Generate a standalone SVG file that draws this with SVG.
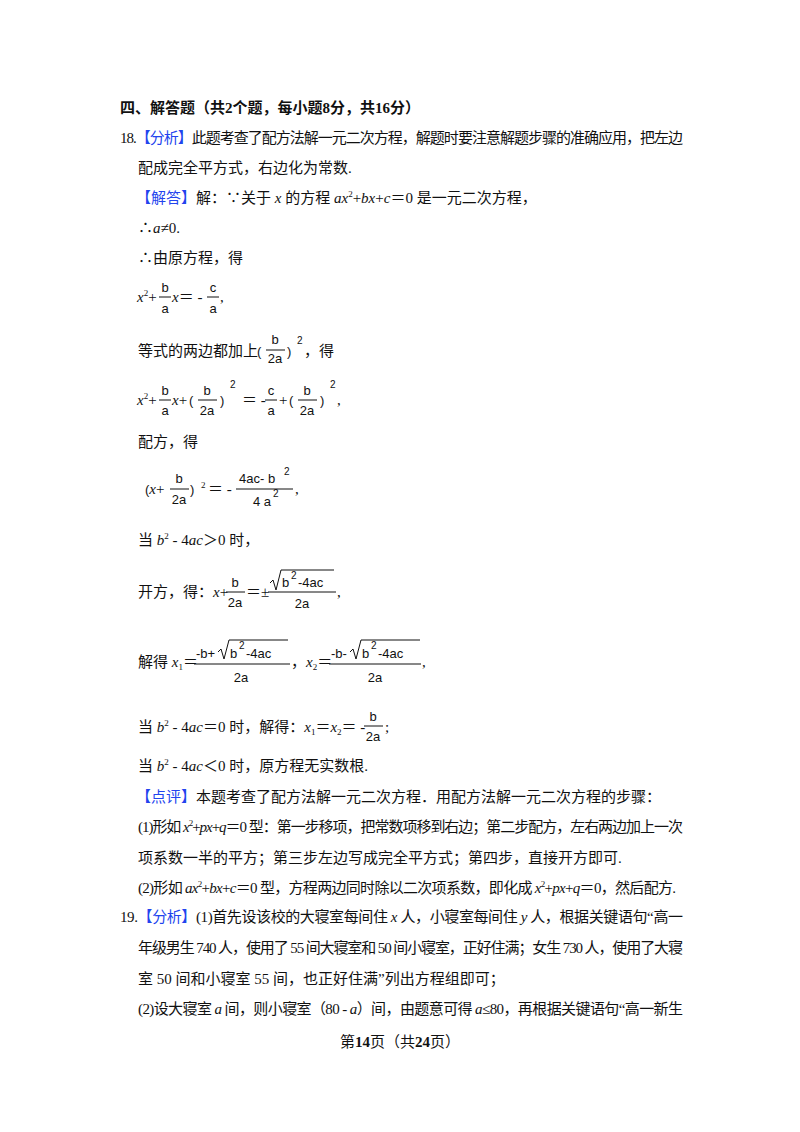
<svg xmlns="http://www.w3.org/2000/svg" width="800" height="1132" viewBox="0 0 800 1132">
<style>
text{font-family:"Liberation Serif","Noto Sans CJK SC",serif;font-size:15px;fill:#111}
.b{font-weight:bold}
.bl{fill:#2244ee}
.i{font-style:italic}
.f{font-family:"Liberation Sans","DejaVu Sans",sans-serif;font-size:13px}
.fm{font-family:"Liberation Sans","DejaVu Sans",sans-serif;font-size:13px;text-anchor:middle}
.s{font-size:9px}
.fs{font-family:"Liberation Sans",sans-serif;font-size:10px}
line{stroke:#111;stroke-width:1}
</style>
<rect width="800" height="1132" fill="#fff"/>
<g id="title"><text x="120" y="113" class="b">四、解答题（共2个题，每小题8分，共16分）</text></g>
<g id="q18">
<text x="120" y="143" textLength="563" lengthAdjust="spacing">18.<tspan class="bl">【分析】</tspan>此题考查了配方法解一元二次方程，解题时要注意解题步骤的准确应用，把左边</text>
<text x="138" y="173">配成完全平方式，右边化为常数.</text>
<text x="136" y="203"><tspan class="bl">【解答】</tspan>解：∵关于 <tspan class="i">x</tspan> 的方程 <tspan class="i">ax</tspan><tspan class="s" dy="-6">2</tspan><tspan dy="6">+</tspan><tspan class="i">bx</tspan>+<tspan class="i">c</tspan>＝0 是一元二次方程，</text>
<text x="138" y="233">∴<tspan class="i">a</tspan>≠0.</text>
<text x="138" y="263">∴由原方程，得</text>
</g>
<g id="eq1">
<text x="137" y="302"><tspan class="i">x</tspan><tspan class="s" dy="-6">2</tspan><tspan dy="6">+</tspan></text>
<text x="165" y="292" class="fm">b</text><line x1="159" y1="297" x2="171" y2="297"/><text x="165" y="313" class="fm">a</text>
<text x="172" y="302"><tspan class="i">x</tspan>＝ -</text>
<text x="213" y="292" class="fm">c</text><line x1="207" y1="297" x2="219" y2="297"/><text x="213" y="313" class="fm">a</text>
<text x="220" y="302">,</text>
</g>
<g id="eq2">
<text x="138" y="356">等式的两边都加上</text>
<text x="257" y="356" class="f">(</text>
<text x="275" y="344" class="fm">b</text><line x1="266" y1="350" x2="285" y2="350"/><text x="275" y="363" class="fm">2a</text>
<text x="287" y="356" class="f">)</text><text x="297" y="344" class="fs">2</text>
<text x="304" y="356">，得</text>
</g>
<g id="eq3">
<text x="137" y="405"><tspan class="i">x</tspan><tspan class="s" dy="-6">2</tspan><tspan dy="6">+</tspan></text>
<text x="165" y="395" class="fm">b</text><line x1="159" y1="400" x2="171" y2="400"/><text x="165" y="415" class="fm">a</text>
<text x="172" y="405"><tspan class="i">x</tspan>+</text>
<text x="189" y="405" class="f">(</text>
<text x="207" y="395" class="fm">b</text><line x1="198" y1="400" x2="217" y2="400"/><text x="207" y="415" class="fm">2a</text>
<text x="220" y="405" class="f">)</text><text x="230" y="388" class="fs">2</text>
<text x="242" y="405">＝ -</text>
<text x="271" y="395" class="fm">c</text><line x1="265" y1="400" x2="277" y2="400"/><text x="271" y="415" class="fm">a</text>
<text x="279" y="405">+</text>
<text x="289" y="405" class="f">(</text>
<text x="307" y="395" class="fm">b</text><line x1="298" y1="400" x2="317" y2="400"/><text x="307" y="415" class="fm">2a</text>
<text x="320" y="405" class="f">)</text><text x="330" y="388" class="fs">2</text>
<text x="337" y="405">,</text>
<text x="138" y="447">配方，得</text>
</g>
<g id="eq4">
<text x="145" y="494"><tspan class="f">(</tspan><tspan class="i">x</tspan>+</text>
<text x="179" y="483" class="fm">b</text><line x1="170" y1="489" x2="189" y2="489"/><text x="179" y="504" class="fm">2a</text>
<text x="190" y="494" class="f">)</text><text x="201" y="488" class="s">2</text>
<text x="208" y="494">＝ -</text>
<text x="239" y="483" class="f">4ac- b</text><text x="284" y="475" class="fs">2</text>
<line x1="236" y1="489" x2="293" y2="489"/>
<text x="253" y="506" class="f">4 a</text><text x="273" y="497" class="fs">2</text>
<text x="295" y="494">,</text>
</g>
<g id="cond1"><text x="138" y="545">当 <tspan class="i">b</tspan><tspan class="s" dy="-6">2</tspan><tspan dy="6"> - 4</tspan><tspan class="i">ac</tspan>＞0 时，</text></g>
<g id="eq5">
<text x="138" y="597">开方，得：<tspan class="i">x</tspan>+</text>
<text x="235" y="587" class="fm">b</text><line x1="226" y1="592" x2="245" y2="592"/><text x="235" y="607" class="fm">2a</text>
<text x="246" y="597">＝±</text>
<path d="M270 583 L273 580 L276 590 L281 570 L334 570" fill="none" stroke="#111"/>
<text x="282" y="587" class="f">b</text><text x="291" y="579" class="fs">2</text><text x="298" y="587" class="f">-4ac</text>
<line x1="268" y1="592" x2="336" y2="592"/>
<text x="302" y="608" class="fm">2a</text>
<text x="337" y="597">,</text>
</g>
<g id="eq6">
<text x="138" y="667">解得 <tspan class="i">x</tspan><tspan class="s" dy="3">1</tspan><tspan dy="-3">＝</tspan></text>
<text x="196" y="658" class="f">-b+</text>
<path d="M218 652 L221 649 L224 659 L229 640 L288 640" fill="none" stroke="#111"/>
<text x="230" y="658" class="f">b</text><text x="239" y="649" class="fs">2</text><text x="246" y="658" class="f">-4ac</text>
<line x1="194" y1="664" x2="290" y2="664"/>
<text x="241" y="682" class="fm">2a</text>
<text x="291" y="667">，<tspan class="i">x</tspan><tspan class="s" dy="3">2</tspan><tspan dy="-3">＝</tspan></text>
<text x="331" y="658" class="f">-b-</text>
<path d="M350 652 L353 649 L356 659 L361 640 L420 640" fill="none" stroke="#111"/>
<text x="362" y="658" class="f">b</text><text x="371" y="649" class="fs">2</text><text x="378" y="658" class="f">-4ac</text>
<line x1="329" y1="664" x2="421" y2="664"/>
<text x="375" y="682" class="fm">2a</text>
<text x="422" y="667">,</text>
</g>
<g id="cond2">
<text x="138" y="732">当 <tspan class="i">b</tspan><tspan class="s" dy="-6">2</tspan><tspan dy="6"> - 4</tspan><tspan class="i">ac</tspan>＝0 时，解得：<tspan class="i">x</tspan><tspan class="s" dy="3">1</tspan><tspan dy="-3">＝</tspan><tspan class="i">x</tspan><tspan class="s" dy="3">2</tspan><tspan dy="-3">＝ -</tspan></text>
<text x="373" y="721" class="fm">b</text><line x1="364" y1="726" x2="383" y2="726"/><text x="373" y="741" class="fm">2a</text>
<text x="385" y="732">;</text>
<text x="138" y="771">当 <tspan class="i">b</tspan><tspan class="s" dy="-6">2</tspan><tspan dy="6"> - 4</tspan><tspan class="i">ac</tspan>＜0 时，原方程无实数根.</text>
</g>
<g id="review">
<text x="136" y="802"><tspan class="bl">【点评】</tspan>本题考查了配方法解一元二次方程．用配方法解一元二次方程的步骤：</text>
<text x="138" y="832" textLength="545" lengthAdjust="spacing">(1)形如 <tspan class="i">x</tspan><tspan class="s" dy="-6">2</tspan><tspan dy="6">+</tspan><tspan class="i">px</tspan>+<tspan class="i">q</tspan>＝0 型：第一步移项，把常数项移到右边；第二步配方，左右两边加上一次</text>
<text x="138" y="863">项系数一半的平方；第三步左边写成完全平方式；第四步，直接开方即可.</text>
<text x="138" y="893" textLength="538" lengthAdjust="spacing">(2)形如 <tspan class="i">ax</tspan><tspan class="s" dy="-6">2</tspan><tspan dy="6">+</tspan><tspan class="i">bx</tspan>+<tspan class="i">c</tspan>＝0 型，方程两边同时除以二次项系数，即化成 <tspan class="i">x</tspan><tspan class="s" dy="-6">2</tspan><tspan dy="6">+</tspan><tspan class="i">px</tspan>+<tspan class="i">q</tspan>＝0，然后配方.</text>
</g>
<g id="q19">
<text x="120" y="922" textLength="563" lengthAdjust="spacing">19.<tspan class="bl">【分析】</tspan>(1)首先设该校的大寝室每间住 <tspan class="i">x</tspan> 人，小寝室每间住 <tspan class="i">y</tspan> 人，根据关键语句“高一</text>
<text x="138" y="953" textLength="545" lengthAdjust="spacing">年级男生 740 人，使用了 55 间大寝室和 50 间小寝室，正好住满；女生 730 人，使用了大寝</text>
<text x="138" y="984">室 50 间和小寝室 55 间，也正好住满”列出方程组即可；</text>
<text x="138" y="1014" textLength="545" lengthAdjust="spacing">(2)设大寝室 <tspan class="i">a</tspan> 间，则小寝室（80 - <tspan class="i">a</tspan>）间，由题意可得 <tspan class="i">a</tspan>≤80，再根据关键语句“高一新生</text>
</g>
<g id="footer"><text x="400" y="1047" text-anchor="middle" font-size="13">第<tspan class="b" font-size="15">14</tspan>页（共<tspan class="b" font-size="15">24</tspan>页）</text></g>
</svg>
